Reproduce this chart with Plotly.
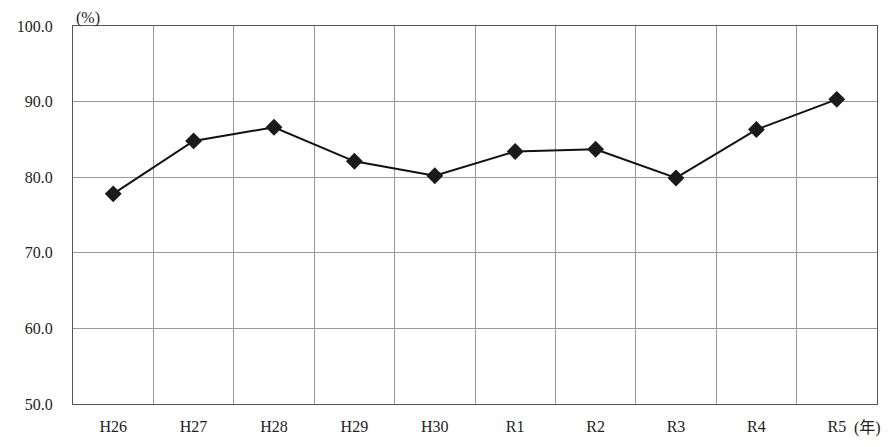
import plotly.graph_objects as go

years = ["H26", "H27", "H28", "H29", "H30", "R1", "R2", "R3", "R4", "R5"]
values = [77.8, 84.8, 86.6, 82.1, 80.2, 83.4, 83.7, 79.9, 86.3, 90.3]
y_ticks = [50, 60, 70, 80, 90, 100]

xs = list(range(len(years)))

serif = "Century Schoolbook, Liberation Serif, DejaVu Serif, Noto Sans CJK JP, serif"

fig = go.Figure()
fig.add_trace(go.Scatter(
    x=xs, y=values, mode="lines+markers",
    line=dict(color="#111111", width=2),
    marker=dict(symbol="diamond", size=13, color="#1a1a1a"),
    showlegend=False,
))

fig.update_layout(
    width=890, height=447,
    margin=dict(l=65, r=21, t=18, b=51, autoexpand=False),
    paper_bgcolor="white", plot_bgcolor="white",
    font=dict(family=serif, size=16, color="#222222"),
    xaxis=dict(
        range=[-0.5, len(years) - 0.5],
        tickvals=xs, ticktext=years,
        showgrid=False, zeroline=False, automargin=False,
        ticks="", ticklabelstandoff=8,
        showline=True, linecolor="#555555", linewidth=1, mirror=True,
        minor=dict(tickvals=[i - 0.5 for i in range(len(years) + 1)],
                   showgrid=True, gridcolor="#999999", gridwidth=1, ticks=""),
    ),
    yaxis=dict(
        range=[50, 100],
        tickvals=y_ticks, ticktext=[f"{v:.1f}" for v in y_ticks],
        showgrid=True, gridcolor="#999999", gridwidth=1, automargin=False,
        zeroline=False, ticks="", ticklabelstandoff=16,
        showline=True, linecolor="#555555", linewidth=1, mirror=True,
    ),
    annotations=[
        dict(text="(%)", xref="paper", yref="paper", x=0.0, y=1.0,
             xanchor="left", yanchor="top", showarrow=False, xshift=1, yshift=19,
             font=dict(family=serif, size=16)),
        dict(text="(年)", xref="paper", yref="paper", x=1.0, y=0.0,
             xanchor="center", yanchor="top", showarrow=False, xshift=-10, yshift=-13,
             font=dict(family=serif, size=16)),
    ],
)

fig.write_html("out.html")
